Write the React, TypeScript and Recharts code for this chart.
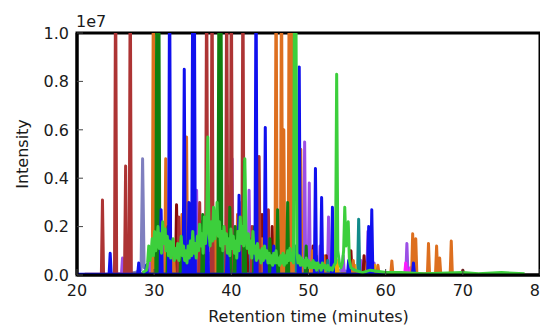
import React from 'react';
import { LineChart, Line, XAxis, YAxis, ReferenceArea } from 'recharts';

// ---- data (intensity in units of 1e7, time in minutes) ----
type P = [number, number];

const xTicks = [20, 30, 40, 50, 60, 70, 80];
const yTicks = [0, 0.2, 0.4, 0.6, 0.8, 1.0];

const brownRange: P = [21, 60];
const brownPeaks: P[] = [
  [23.3, 0.31], [25.0, 1.3], [26.3, 0.45], [26.9, 1.3], [33.2, 0.24], [35.9, 0.3],
  [36.8, 1.3], [37.5, 1.3], [39.4, 1.3], [40.0, 1.3], [41.5, 1.3], [42.7, 0.2],
  [43.6, 0.49], [44.8, 0.27],
];

const blueRange: P = [20, 64];
const bluePeaks: P[] = [
  [24.3, 0.09], [28.0, 0.05], [29.0, 0.04], [30.9, 0.27], [32.0, 1.3], [33.9, 0.85],
  [34.5, 0.3], [35.0, 1.3], [35.2, 1.3], [36.9, 0.2], [39.5, 0.12], [41.0, 0.33],
  [43.2, 1.3], [44.4, 0.61], [45.5, 0.12], [48.8, 0.86], [50.9, 0.44], [51.7, 0.32],
  [53.1, 0.28], [55.2, 0.06], [57.8, 0.2], [58.2, 0.27], [63.6, 0.05],
];

const greenRange: P = [27, 60];
const greenPeaks: P[] = [
  [30.35, 1.3], [30.6, 1.3], [31.8, 0.2], [33.5, 0.15], [34.8, 0.12], [36.3, 0.25],
  [38.4, 1.3], [38.65, 1.3], [39.8, 0.28], [40.5, 0.2], [41.7, 0.47], [43.0, 0.2],
  [45.0, 0.15], [46.0, 0.27], [47.3, 0.3], [49.7, 0.12], [51.0, 0.08],
];

const orangeRange: P = [28, 72];
const orangePeaks: P[] = [
  [29.9, 1.3], [31.5, 0.48], [32.5, 0.12], [33.6, 0.25], [34.2, 0.57], [36.6, 0.2],
  [38.0, 0.18], [40.8, 0.25], [42.9, 0.18], [44.0, 0.15], [45.8, 1.3], [46.5, 1.3],
  [46.8, 0.6], [47.5, 1.3], [47.9, 1.3], [49.0, 0.52], [50.5, 0.1], [52.0, 0.08],
  [55.8, 0.06], [57.6, 0.05], [59.0, 0.04], [60.8, 0.058], [63.5, 0.17], [63.9, 0.15],
  [65.55, 0.13], [66.6, 0.12], [67.0, 0.07], [68.5, 0.14],
];

const purpleRange: P = [24, 66];
const purplePeaks: P[] = [
  [25.9, 0.07], [29.5, 0.08], [31.2, 0.15], [33.8, 0.12], [35.5, 0.35], [36.1, 0.22],
  [37.5, 0.2], [39.2, 0.15], [40.1, 0.48], [42.3, 0.35], [43.5, 0.2], [45.3, 0.15],
  [47.0, 0.15], [49.5, 0.55], [50.1, 0.38], [51.5, 0.12], [52.6, 0.24], [54.5, 0.08],
  [56.8, 0.06], [57.7, 0.18], [58.5, 0.05], [62.75, 0.13],
];

const darkredRange: P = [28, 71];
const darkredPeaks: P[] = [
  [30.2, 0.06], [32.9, 0.29], [35.0, 0.12], [38.9, 0.15], [42.0, 0.15], [44.0, 0.25],
  [45.3, 0.2], [47.6, 0.2], [50.6, 0.12], [52.3, 0.08], [55.5, 0.1], [57.2, 0.08],
  [70.0, 0.02],
];

const tealRange: P = [35, 60];
const tealPeaks: P[] = [
  [39.0, 0.1], [42.6, 0.15], [45.8, 0.1], [48.3, 0.12], [52.5, 0.06], [53.5, 0.08],
  [56.5, 0.23],
];

const magentaRange: P = [55, 65];
const magentaPeaks: P[] = [[62.6, 0.05], [63.2, 0.03]];

const goldRange: P = [45, 62];
const goldPeaks: P[] = [[47.2, 0.06], [50.3, 0.05], [53.7, 0.06], [56.0, 0.04], [58.6, 0.04]];

const limePoints: P[] = [
  [28.5, 0.01], [29.0, 0.02], [29.15, 0.05], [29.3, 0.12], [29.45, 0.06], [29.6, 0.09],
  [29.75, 0.15], [29.9, 0.08], [30.05, 0.18], [30.2, 0.1], [30.35, 0.14], [30.5, 0.2],
  [30.65, 0.11], [30.8, 0.17], [30.95, 0.09], [31.1, 0.22], [31.25, 0.13], [31.4, 0.19],
  [31.55, 0.1], [31.7, 0.16], [31.85, 0.08], [32.0, 0.14], [32.15, 0.07], [32.3, 0.12],
  [32.45, 0.15], [32.6, 0.06], [32.75, 0.11], [32.9, 0.07], [33.05, 0.13], [33.2, 0.06],
  [33.35, 0.1], [33.5, 0.16], [33.65, 0.08], [33.8, 0.12], [33.95, 0.06], [34.1, 0.1],
  [34.25, 0.05], [34.4, 0.12], [34.55, 0.07], [34.7, 0.14], [34.85, 0.08], [35.0, 0.18],
  [35.15, 0.09], [35.3, 0.13], [35.45, 0.07], [35.6, 0.16], [35.75, 0.1], [35.9, 0.21],
  [36.05, 0.12], [36.2, 0.17], [36.35, 0.09], [36.5, 0.24], [36.65, 0.13], [36.8, 0.2],
  [36.95, 0.57], [37.1, 0.18], [37.25, 0.12], [37.4, 0.22], [37.55, 0.14], [37.7, 0.28],
  [37.85, 0.15], [38.0, 0.19], [38.15, 0.3], [38.3, 0.16], [38.45, 0.22], [38.6, 0.12],
  [38.75, 0.18], [38.9, 0.1], [39.05, 0.2], [39.2, 0.13], [39.35, 0.17], [39.5, 0.09],
  [39.65, 0.15], [39.8, 0.08], [39.95, 0.19], [40.1, 0.11], [40.25, 0.16], [40.4, 0.09],
  [40.55, 0.14], [40.7, 0.07], [40.85, 0.18], [41.0, 0.1], [41.15, 0.24], [41.3, 0.13],
  [41.45, 0.2], [41.6, 0.12], [41.75, 0.48], [41.9, 0.16], [42.05, 0.11], [42.2, 0.17],
  [42.35, 0.09], [42.5, 0.14], [42.65, 0.07], [42.8, 0.18], [42.95, 0.09], [43.1, 0.12],
  [43.25, 0.06], [43.4, 0.13], [43.55, 0.07], [43.7, 0.1], [43.85, 0.05], [44.0, 0.11],
  [44.15, 0.06], [44.3, 0.12], [44.45, 0.07], [44.6, 0.1], [44.75, 0.05], [44.9, 0.09],
  [45.05, 0.05], [45.2, 0.08], [45.35, 0.04], [45.5, 0.09], [45.65, 0.05], [45.8, 0.1],
  [45.95, 0.05], [46.1, 0.07], [46.25, 0.04], [46.4, 0.08], [46.55, 0.05], [46.7, 0.09],
  [46.85, 0.04], [47.0, 0.08], [47.15, 0.05], [47.3, 0.1], [47.45, 0.06], [47.6, 0.11],
  [47.75, 0.06], [47.9, 0.09], [48.05, 0.05], [48.2, 1.3], [48.35, 1.3], [48.5, 0.09],
  [48.65, 0.05], [48.8, 0.08], [48.95, 0.04], [49.1, 0.07], [49.25, 0.04], [49.4, 0.06],
  [49.55, 0.03], [49.7, 0.07], [49.85, 0.04], [50.0, 0.06], [50.15, 0.03], [50.3, 0.05],
  [50.45, 0.03], [50.6, 0.06], [50.75, 0.03], [50.9, 0.05], [51.05, 0.02], [51.2, 0.05],
  [51.35, 0.03], [51.5, 0.04], [51.65, 0.02], [51.8, 0.05], [51.95, 0.03], [52.1, 0.04],
  [52.3, 0.02], [52.5, 0.04], [52.7, 0.02], [52.9, 0.03], [53.1, 0.02], [53.3, 0.04],
  [53.5, 0.05], [53.65, 0.83], [53.8, 0.1], [54.0, 0.05], [54.2, 0.03], [54.4, 0.05],
  [54.55, 0.1], [54.7, 0.28], [54.85, 0.12], [55.0, 0.15], [55.15, 0.22], [55.3, 0.06],
  [55.5, 0.03], [56.0, 0.02], [57.0, 0.01], [58.0, 0.02], [60.0, 0.01], [62.0, 0.01],
  [65.0, 0.005], [70.0, 0.01], [72.0, 0.005], [75.0, 0.01], [78.0, 0.005],
];

const slatePoints: P[] = [
  [22, 0.0], [26, 0.005], [27.5, 0.01], [28.3, 0.02], [28.5, 0.48], [28.7, 0.03],
  [29.0, 0.03], [29.25, 0.05], [29.5, 0.03], [29.75, 0.06], [30.0, 0.04], [30.25, 0.07],
  [30.5, 0.04], [30.75, 0.06], [31.0, 0.05], [31.25, 0.08], [31.5, 0.05], [31.75, 0.07],
  [32.0, 0.04], [32.25, 0.06], [32.5, 0.05], [32.75, 0.08], [33.0, 0.05], [33.25, 0.07],
  [33.5, 0.04], [33.75, 0.06], [34.0, 0.05], [34.25, 0.08], [34.5, 0.05], [34.75, 0.07],
  [35.0, 0.04], [35.25, 0.06], [35.5, 0.05], [35.75, 0.07], [36.0, 0.05], [36.25, 0.08],
  [36.5, 0.05], [36.75, 0.07], [37.0, 0.06], [37.25, 0.09], [37.5, 0.05], [37.75, 0.08],
  [38.0, 0.06], [38.25, 0.09], [38.5, 0.05], [38.75, 0.07], [39.0, 0.05], [39.25, 0.08],
  [39.5, 0.05], [39.75, 0.07], [40.0, 0.05], [40.25, 0.08], [40.5, 0.05], [40.75, 0.06],
  [40.95, 0.05], [41.1, 0.3], [41.25, 0.05], [41.5, 0.07], [41.75, 0.04], [42.0, 0.06],
  [42.25, 0.05], [42.5, 0.07], [42.75, 0.04], [43.0, 0.06], [43.25, 0.05], [43.5, 0.07],
  [43.75, 0.04], [44.0, 0.06], [44.25, 0.04], [44.5, 0.06], [44.75, 0.04], [45.0, 0.05],
  [45.25, 0.04], [45.5, 0.06], [45.75, 0.04], [46.0, 0.05], [46.25, 0.03], [46.5, 0.05],
  [46.75, 0.04], [47.0, 0.06], [47.25, 0.04], [47.5, 0.05], [47.75, 0.03], [48.0, 0.05],
  [48.25, 0.04], [48.5, 0.05], [48.75, 0.03], [49.0, 0.04], [49.5, 0.03], [50.0, 0.04],
  [50.5, 0.03], [51.0, 0.04], [51.5, 0.03], [52.0, 0.03], [53.0, 0.02], [54.0, 0.02],
  [56.0, 0.01], [60.0, 0.005],
];

// ---- table builders ----
const BASE = 0.003;
const HALF = 0.14;
function fromPeaks(range: P, peaks: P[]) {
  const pts: { t: number; v: number }[] = [
    { t: range[0], v: BASE },
    { t: range[1], v: BASE },
  ];
  for (const [t, h] of peaks) {
    pts.push({ t: t - HALF, v: BASE }, { t, v: h }, { t: t + HALF, v: BASE });
  }
  return pts.sort((a, b) => a.t - b.t);
}
const fromPoints = (pts: P[]) => pts.map(([t, v]) => ({ t, v }));

const series = [
  { key: 'slate', data: fromPoints(slatePoints) },
  { key: 'purple', data: fromPeaks(purpleRange, purplePeaks) },
  { key: 'darkred', data: fromPeaks(darkredRange, darkredPeaks) },
  { key: 'teal', data: fromPeaks(tealRange, tealPeaks) },
  { key: 'gold', data: fromPeaks(goldRange, goldPeaks) },
  { key: 'magenta', data: fromPeaks(magentaRange, magentaPeaks) },
  { key: 'orange', data: fromPeaks(orangeRange, orangePeaks) },
  { key: 'brown', data: fromPeaks(brownRange, brownPeaks) },
  { key: 'green', data: fromPeaks(greenRange, greenPeaks) },
  { key: 'blue', data: fromPeaks(blueRange, bluePeaks) },
  { key: 'lime', data: fromPoints(limePoints) },
];

const COLORS: Record<string, string> = {
  slate: '#7f7fbf',
  purple: '#9b4fe6',
  darkred: '#860b0b',
  teal: '#118b8b',
  gold: '#f2a900',
  magenta: '#ff1aff',
  orange: '#dd6f1f',
  brown: '#ad3434',
  green: '#0f7f0f',
  blue: '#1010ee',
  lime: '#3ccf3c',
};

const FONT = '"DejaVu Sans", sans-serif';
const TXT = '#1a1a1a';
const TICK = '#444';

const BottomTick = (p: any) => (
  <g>
    <line x1={p.x} y1={p.y} x2={p.x} y2={p.y - 6} stroke={TICK} strokeWidth={1} />
    <text x={p.x} y={p.y + 20.5} textAnchor="middle" fontSize={16} fontFamily={FONT} fill={TXT}>
      {p.payload.value}
    </text>
  </g>
);
const TopTick = (p: any) => (
  <line x1={p.x} y1={p.y} x2={p.x} y2={p.y + 6} stroke={TICK} strokeWidth={1} />
);
const LeftTick = (p: any) => (
  <g>
    <line x1={p.x} y1={p.y} x2={p.x + 6} y2={p.y} stroke={TICK} strokeWidth={1} />
    <text x={p.x - 8} y={p.y + 5.8} textAnchor="end" fontSize={16} fontFamily={FONT} fill={TXT}>
      {Number(p.payload.value).toFixed(1)}
    </text>
  </g>
);
const RightTick = (p: any) => (
  <line x1={p.x} y1={p.y} x2={p.x - 6} y2={p.y} stroke={TICK} strokeWidth={1} />
);

export default function App() {
  return (
    <LineChart width={540} height={319} margin={{ top: 25, right: 8, bottom: 22, left: 0 }}>
      <XAxis
        xAxisId={0}
        dataKey="t"
        type="number"
        domain={[20, 80]}
        ticks={xTicks}
        allowDataOverflow
        height={30}
        tickSize={0}
        tickMargin={0}
        tickLine={false}
        axisLine={{ stroke: '#000', strokeWidth: 3 }}
        tick={BottomTick}
        interval={0}
        label={{
          content: (props: any) => {
            const vb = props.viewBox;
            return (
              <text x={vb.x + vb.width / 2} y={vb.y + 47} textAnchor="middle" fontSize={16} fontFamily={FONT} fill={TXT}>
                Retention time (minutes)
              </text>
            );
          },
        }}
      />
      <XAxis
        xAxisId="top"
        orientation="top"
        dataKey="t"
        type="number"
        domain={[20, 80]}
        ticks={xTicks}
        allowDataOverflow
        height={0}
        tickSize={0}
        tickMargin={0}
        tickLine={false}
        axisLine={{ stroke: '#000', strokeWidth: 3 }}
        tick={TopTick}
        interval={0}
      />
      <YAxis
        yAxisId={0}
        type="number"
        domain={[0, 1]}
        ticks={yTicks}
        allowDataOverflow
        width={69}
        tickSize={0}
        tickMargin={0}
        tickLine={false}
        axisLine={{ stroke: '#000', strokeWidth: 3 }}
        tick={LeftTick}
        interval={0}
        label={{
          content: (props: any) => {
            const vb = props.viewBox;
            const cx = vb.x + 14.5;
            const cy = vb.y + vb.height / 2;
            return (
              <g>
                <text
                  x={cx}
                  y={cy}
                  transform={`rotate(-90 ${cx} ${cy})`}
                  textAnchor="middle"
                  dominantBaseline="central"
                  fontSize={16}
                  fontFamily={FONT}
                  fill={TXT}
                >
                  Intensity
                </text>
                <text x={vb.x + vb.width - 1} y={vb.y - 6} textAnchor="start" fontSize={16} fontFamily={FONT} fill={TXT}>
                  1e7
                </text>
              </g>
            );
          },
        }}
      />
      <YAxis
        yAxisId="right"
        orientation="right"
        type="number"
        domain={[0, 1]}
        ticks={yTicks}
        allowDataOverflow
        width={0}
        tickSize={0}
        tickMargin={0}
        tickLine={false}
        axisLine={{ stroke: '#000', strokeWidth: 3 }}
        tick={RightTick}
        interval={0}
      />
      {series.map((s) => (
        <Line
          key={s.key}
          xAxisId={0}
          yAxisId={0}
          data={s.data}
          dataKey="v"
          type="linear"
          dot={false}
          activeDot={false}
          stroke={COLORS[s.key]}
          strokeWidth={3}
          strokeLinejoin="round"
          isAnimationActive={false}
        />
      ))}
      <ReferenceArea
        xAxisId={0}
        yAxisId={0}
        x1={20}
        x2={80}
        y1={0}
        y2={1}
        fill="none"
        fillOpacity={0}
        stroke="#000"
        strokeWidth={3}
        ifOverflow="visible"
      />
    </LineChart>
  );
}
